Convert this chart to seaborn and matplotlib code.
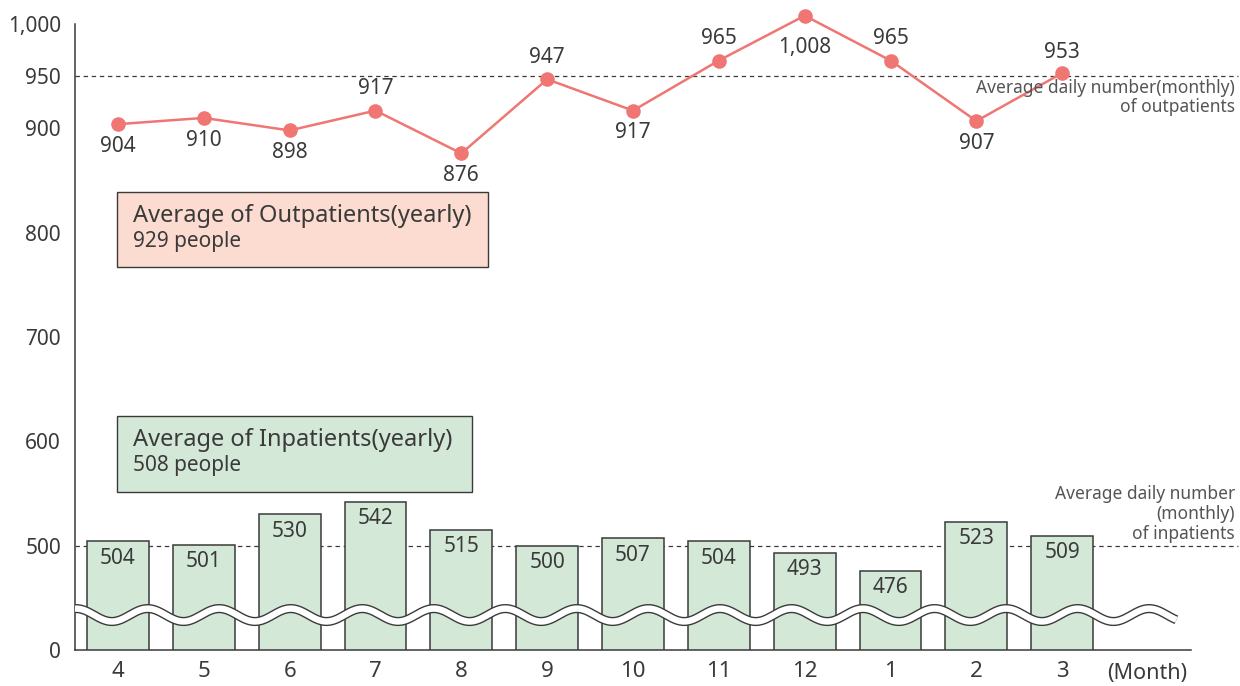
import numpy as np
import pandas as pd
import matplotlib
matplotlib.use("Agg")
import matplotlib.pyplot as plt
import matplotlib.patches as mpatches
import seaborn as sns

# data
months = ["4", "5", "6", "7", "8", "9", "10", "11", "12", "1", "2", "3"]
outpatients = [904, 910, 898, 917, 876, 947, 917, 965, 1008, 965, 907, 953]
inpatients = [504, 501, 530, 542, 515, 500, 507, 504, 493, 476, 523, 509]
ytick_values = [0, 500, 600, 700, 800, 900, 950, 1000]
ytick_labels = ["0", "500", "600", "700", "800", "900", "950", "1,000"]
out_avg_monthly = 950
in_avg_monthly = 500
out_avg_yearly = 929
in_avg_yearly = 508

# label offsets (points) for the line values: above (+) or below (-)
out_label_dy = [-16, -16, -16, 16, -16, 16, -16, 16, -23, 16, -16, 15]

BASE = 400  # the broken axis draws 0 where 400 would be

LINE_RED = "#EF7673"
BAR_GREEN = "#D3E8D7"
BOX_PINK = "#FCDCD0"
DARK = "#3A3A3A"

W, H = 1240, 686


def px(x, y):
    # pixel position -> figure fraction
    return x / W, 1 - y / H


sns.set_theme(style="white")
plt.rcParams["font.family"] = ["Noto Sans", "DejaVu Sans"]

fig = plt.figure(figsize=(W / 100, H / 100), dpi=100)
l, b = px(75, 650)
r, t = px(1191, 24)
ax = fig.add_axes([l, b, r - l, t - b])

df = pd.DataFrame({"month": months, "inpatients": inpatients})
df["height"] = df["inpatients"] - BASE

# bars (inpatients)
sns.barplot(data=df, x="month", y="height", order=months, bottom=BASE,
            width=0.72, color=BAR_GREEN, saturation=1, edgecolor=DARK,
            linewidth=1.1, errorbar=None, ax=ax, zorder=3)

for i, v in enumerate(inpatients):
    ax.annotate(str(v), (i, v), xytext=(0, -12), textcoords="offset points",
                ha="center", va="center", fontsize=15, color=DARK, zorder=4)

# line (outpatients)
pos = np.arange(len(months))
sns.lineplot(x=pos, y=outpatients, sort=False, color=LINE_RED, linewidth=1.8,
             marker="o", markersize=10.5, markeredgewidth=0, ax=ax,
             zorder=5, clip_on=False)

for i, (v, dy) in enumerate(zip(outpatients, out_label_dy)):
    ax.annotate(f"{v:,}", (i, v), xytext=(0, dy), textcoords="offset points",
                ha="center", va="center", fontsize=15, color=DARK, zorder=6,
                annotation_clip=False)

# monthly average dashed lines
ax.plot([-0.5, 13.05], [out_avg_monthly] * 2, ls=(0, (3.5, 3)), color=DARK,
        lw=0.9, clip_on=False, zorder=2)
ax.plot([-0.5, 13.05], [in_avg_monthly] * 2, ls=(0, (3.5, 3)), color=DARK,
        lw=0.9, clip_on=False, zorder=2)

# wavy axis break
wx = np.linspace(-0.5, 12.33, 800)
wy = 433.5 - 6.2 * np.cos(2 * np.pi * (wx + 0.07) / 0.8333)
ax.plot(wx, wy, color=DARK, lw=6.6, solid_capstyle="butt", zorder=7, clip_on=False)
ax.plot(wx, wy, color="white", lw=4.6, solid_capstyle="butt", zorder=8, clip_on=False)

# axes styling
ax.set_xlim(-0.5, 12.5)
ax.set_ylim(BASE, 1000)
ax.set_yticks([BASE if v == 0 else v for v in ytick_values])
ax.set_yticklabels(ytick_labels)
ax.set_xticks(pos)
ax.set_xticklabels(months)
ax.set_xlabel("")
ax.set_ylabel("")
ax.tick_params(axis="y", direction="in", length=19, width=1.0, color=DARK,
               pad=10, labelsize=15, labelcolor=DARK)
ax.tick_params(axis="x", length=0, pad=8, labelsize=16, labelcolor=DARK)
for s in ["top", "right"]:
    ax.spines[s].set_visible(False)
for s in ["left", "bottom"]:
    ax.spines[s].set_color(DARK)
    ax.spines[s].set_linewidth(1.1)
ax.set_facecolor("none")

fig.text(*px(1147, 673), "(Month)", ha="center", va="center", fontsize=15.5, color=DARK)

# yearly average boxes
for (x0, y0, x1, y1), color, title, value in [
        ((117, 192, 488, 267), BOX_PINK, "Average of Outpatients(yearly)", out_avg_yearly),
        ((117, 416, 472, 492), BAR_GREEN, "Average of Inpatients(yearly)", in_avg_yearly)]:
    fx, fy = px(x0, y1)
    rect = mpatches.Rectangle((fx, fy), (x1 - x0) / W, (y1 - y0) / H,
                              transform=fig.transFigure, facecolor=color,
                              edgecolor=DARK, linewidth=1.0, zorder=1)
    fig.add_artist(rect)
    fig.text(*px(x0 + 16, y0 + 24), title, ha="left", va="center",
             fontsize=17, color=DARK)
    fig.text(*px(x0 + 16, y0 + 50), f"{value} people", ha="left", va="center",
             fontsize=15, color=DARK)

# notes for the dashed lines
fig.text(*px(1235, 97.5), "Average daily number(monthly)\nof outpatients",
         ha="right", va="center", fontsize=12.5, color="#555555", linespacing=1.12)
fig.text(*px(1235, 514), "Average daily number\n(monthly)\nof inpatients",
         ha="right", va="center", fontsize=12.5, color="#555555", linespacing=1.12)

fig.savefig("out.png", dpi=100)
